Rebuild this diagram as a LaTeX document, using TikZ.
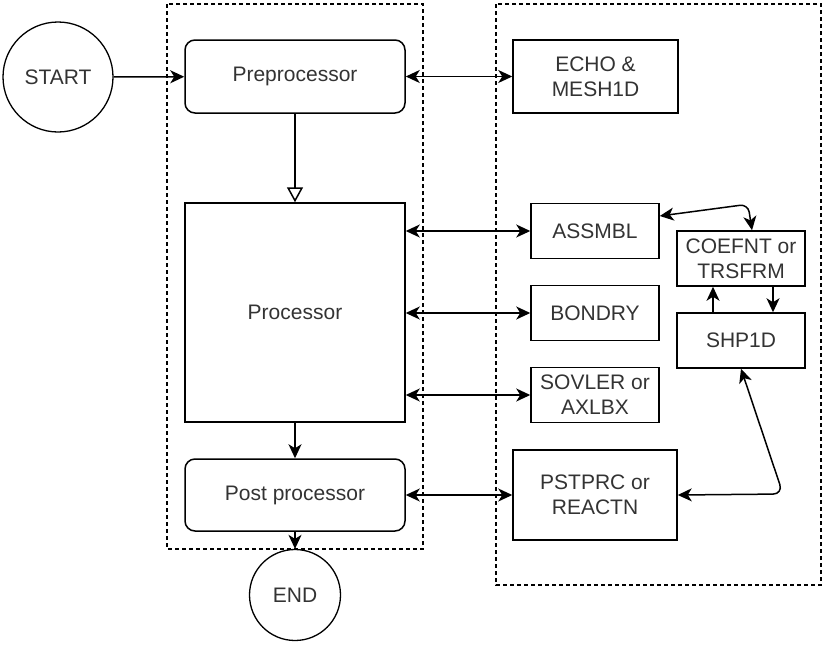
\documentclass[tikz,border=0pt]{standalone}
\usepackage{fontspec}
\setmainfont{Liberation Sans}
\usetikzlibrary{arrows.meta}
\begin{document}
\begin{tikzpicture}[x=1pt, y=-1pt,
    every node/.style={font=\fontsize{21}{25}\selectfont, align=center, text=black!80},
    blok/.style={draw, line width=1.5pt, inner sep=0pt, minimum width=128pt, minimum height=55pt},
    rblok/.style={blok, rounded corners=10pt, minimum width=220pt},
    ring/.style={draw, circle, line width=1.3pt, inner sep=0pt},
    grp/.style={draw, line width=1.4pt, dash pattern=on 4pt off 3pt},
    arr/.style={line width=1.5pt, -{Stealth[length=14pt, width=13pt, inset=4pt]}},
    arr2/.style={line width=1.5pt, {Stealth[length=14pt, width=13pt, inset=4pt]}-{Stealth[length=14pt, width=13pt, inset=4pt]}},
    tri/.style={line width=1.5pt, -{Triangle[open, length=15pt, width=16pt, fill=white]}}]
  %tikz  Programma, moduli
    \useasboundingbox (0,0) rectangle (826,645);
    \draw[grp] (167,4) rectangle (423,549);
    \draw[grp] (496,4) rectangle (821,585);
    \node[ring, minimum size=110pt] (start) at (58,77) {START};
    \node[ring, minimum size=91pt] (finish) at (295,595) {END};
    \node[rblok, minimum height=73pt] (pre) at (295,76.5) {Preprocessor};
    \node[blok, minimum width=220pt, minimum height=219pt] (proc) at (295,312.5) {Processor};
    \node[rblok, minimum height=72pt] (post) at (295,495) {Post processor};
    \node[blok, minimum width=165pt, minimum height=73pt] (echo) at (595.5,76.5) {ECHO \&\\MESH1D};
    \node[blok] (assmbl) at (595,231) {ASSMBL};
    \node[blok] (bondry) at (595,313) {BONDRY};
    \node[blok] (sovler) at (595,395) {SOVLER or\\AXLBX};
    \node[blok, minimum width=164pt, minimum height=90pt] (pstprc) at (595,495) {PSTPRC or\\REACTN};
    \node[blok] (coef) at (741,258.5) {COEFNT or\\TRSFRM};
    \node[blok] (shp) at (741,340.5) {SHP1D};
    \coordinate (knee) at (783,494);
    \draw[arr] (start) -- (pre);
    \draw[arr2] (pre) -- (echo);
    \draw[tri] (pre) -- (proc);
    \draw[arr2] (proc.east |- assmbl) -- (assmbl);
    \draw[arr2] (proc.east |- bondry) -- (bondry);
    \draw[arr2] (proc.east |- sovler) -- (sovler);
    \draw[arr] (proc) -- (post);
    \draw[arr2] (post) -- (pstprc);
    \draw[arr] (post) -- (finish);
    \draw[arr2, rounded corners=8pt] ([yshift=15pt]assmbl.east) -- ([xshift=7pt, yshift=26pt]coef.north) -- ([xshift=11pt]coef.north);
    \draw[arr] ([xshift=-28pt]shp.north) -- ([xshift=-28pt]coef.south);
    \draw[arr] ([xshift=32pt]coef.south) -- ([xshift=32pt]shp.north);
    \draw[arr2, rounded corners=10pt] (shp.south) -- (knee) -- (pstprc.east);
  \end{tikzpicture}
\end{document}
